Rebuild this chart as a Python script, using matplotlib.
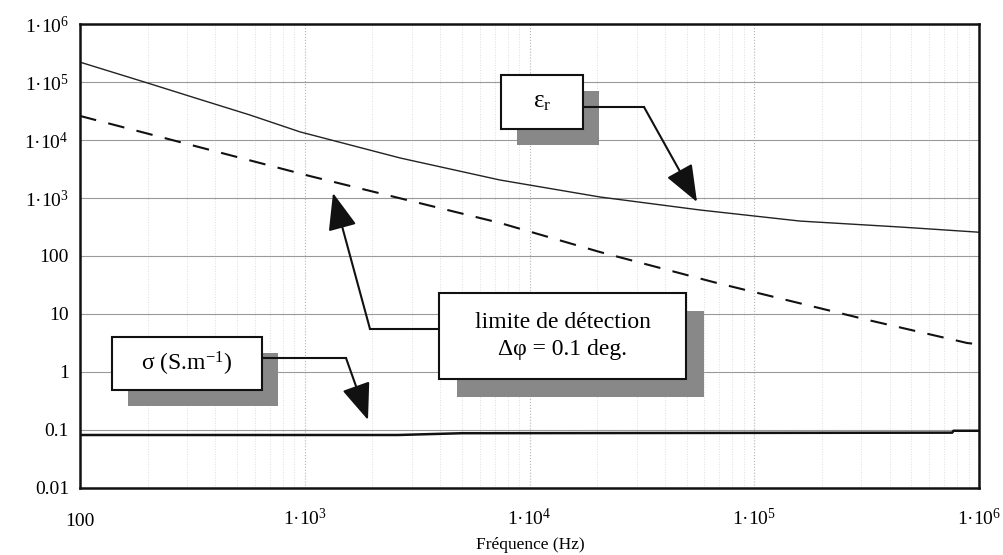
import matplotlib
matplotlib.use('Agg')
import matplotlib.pyplot as plt
from matplotlib.ticker import FixedLocator, FixedFormatter, LogLocator, NullFormatter, NullLocator
from matplotlib.patches import Rectangle, FancyArrowPatch
from matplotlib.lines import Line2D

plt.rcParams['font.family'] = ['Liberation Serif', 'DejaVu Serif']
plt.rcParams['mathtext.fontset'] = 'custom'
plt.rcParams['mathtext.rm'] = 'Liberation Serif'
plt.rcParams['mathtext.it'] = 'Liberation Serif:italic'
plt.rcParams['mathtext.default'] = 'regular'

# values
freq_eps = [100, 200, 342, 570, 953, 2655, 7400, 2.06e4, 5.74e4, 1.6e5, 4.46e5, 1e6]
eps_r = [2.2e5, 9.6e4, 5.0e4, 2.7e4, 1.38e4, 4900, 2040, 1040, 621, 400, 316, 257]

freq_lim = [100, 1054, 7400, 2.06e4, 6.68e4, 3.2e5, 8.86e5, 1e6]
limit = [2.6e4, 2390, 371, 117, 35, 7.9, 3.16, 3.0]

freq_sig = [100, 2600, 5000, 7.6e5, 7.7e5, 1e6]
sigma = [0.082, 0.082, 0.088, 0.09, 0.097, 0.097]

xticks = [1e2, 1e3, 1e4, 1e5, 1e6]
xtick_labels = ['100', '1·10$^{3}$', '1·10$^{4}$', '1·10$^{5}$', '1·10$^{6}$']
yticks = [1e-2, 1e-1, 1, 10, 100, 1e3, 1e4, 1e5, 1e6]
ytick_labels = ['0.01', '0.1', '1', '10', '100', '1·10$^{3}$', '1·10$^{4}$',
                '1·10$^{5}$', '1·10$^{6}$']

W, H = 1004, 555
fig = plt.figure(figsize=(W / 100, H / 100), dpi=100)
ax = fig.add_axes([80 / W, 1 - 488 / H, (979 - 80) / W, (488 - 24) / H])

ax.plot(freq_eps, eps_r, color='#222222', lw=1.0)
ax.plot(freq_lim, limit, color='#111111', lw=1.5, dashes=(8, 6))
ax.plot(freq_sig, sigma, color='#111111', lw=1.8)

ax.set_xscale('log')
ax.set_yscale('log')
ax.set_xlim(100, 1e6)
ax.set_ylim(0.01, 1e6)

ax.xaxis.set_major_locator(FixedLocator(xticks))
ax.xaxis.set_major_formatter(FixedFormatter(xtick_labels))
ax.xaxis.set_minor_locator(LogLocator(base=10, subs=range(2, 10)))
ax.xaxis.set_minor_formatter(NullFormatter())
ax.yaxis.set_major_locator(FixedLocator(yticks))
ax.yaxis.set_major_formatter(FixedFormatter(ytick_labels))
ax.yaxis.set_minor_locator(NullLocator())

ax.tick_params(axis='both', which='both', length=0, labelsize=14)
ax.tick_params(axis='x', pad=27)
ax.tick_params(axis='y', pad=8)
for t in ax.get_xticklabels():
    t.set_verticalalignment('baseline')

ax.grid(axis='y', which='major', color='#9a9a9a', lw=0.8, ls='-')
ax.grid(axis='x', which='major', color='#b5b5b5', lw=0.8, ls=':')
ax.grid(axis='x', which='minor', color='#dddddd', lw=0.7, ls=':')
for s in ax.spines.values():
    s.set_linewidth(1.8)
    s.set_color('#111111')

fig.text(530 / W, 1 - 545 / H, 'Fréquence (Hz)', ha='center', va='center', fontsize=12.5)


def fx(x):
    return x / W


def fy(y):
    return 1 - y / H


def box(x0, y0, x1, y1, off, label, size):
    sh = Rectangle((fx(x0 + off), fy(y1 + off)), (x1 - x0) / W, (y1 - y0) / H,
                   transform=fig.transFigure, facecolor='#888888', edgecolor='none', zorder=1)
    fig.add_artist(sh)
    b = Rectangle((fx(x0), fy(y1)), (x1 - x0) / W, (y1 - y0) / H,
                  transform=fig.transFigure, facecolor='white', edgecolor='#111111',
                  lw=1.5, zorder=3)
    fig.add_artist(b)
    fig.text(fx((x0 + x1) / 2), fy((y0 + y1) / 2), label, ha='center', va='center',
             fontsize=size, linespacing=1.4, zorder=4)


def arrow(pts):
    xs = [fx(p[0]) for p in pts[:-1]]
    ys = [fy(p[1]) for p in pts[:-1]]
    fig.add_artist(Line2D(xs, ys, transform=fig.transFigure, color='#111111', lw=1.5, zorder=2))
    a = FancyArrowPatch((fx(pts[-2][0]), fy(pts[-2][1])), (fx(pts[-1][0]), fy(pts[-1][1])),
                        transform=fig.transFigure, arrowstyle='-|>,head_length=1.15,head_width=0.45',
                        mutation_scale=20, color='#111111', lw=1.5, shrinkA=0, shrinkB=0, zorder=2)
    fig.add_artist(a)


arrow([(583, 107), (644, 107), (697, 202)])
box(501, 75, 583, 129, 16, 'ε$_{r}$', 18)

arrow([(439, 329), (370, 329), (333, 193)])
box(439, 293, 686, 379, 18, 'limite de détection\nΔφ = 0.1 deg.', 17)

arrow([(262, 358), (346, 358), (368, 420)])
box(112, 337, 262, 390, 16, 'σ (S.m$^{-1}$)', 17)

fig.savefig('out.png', dpi=100)
